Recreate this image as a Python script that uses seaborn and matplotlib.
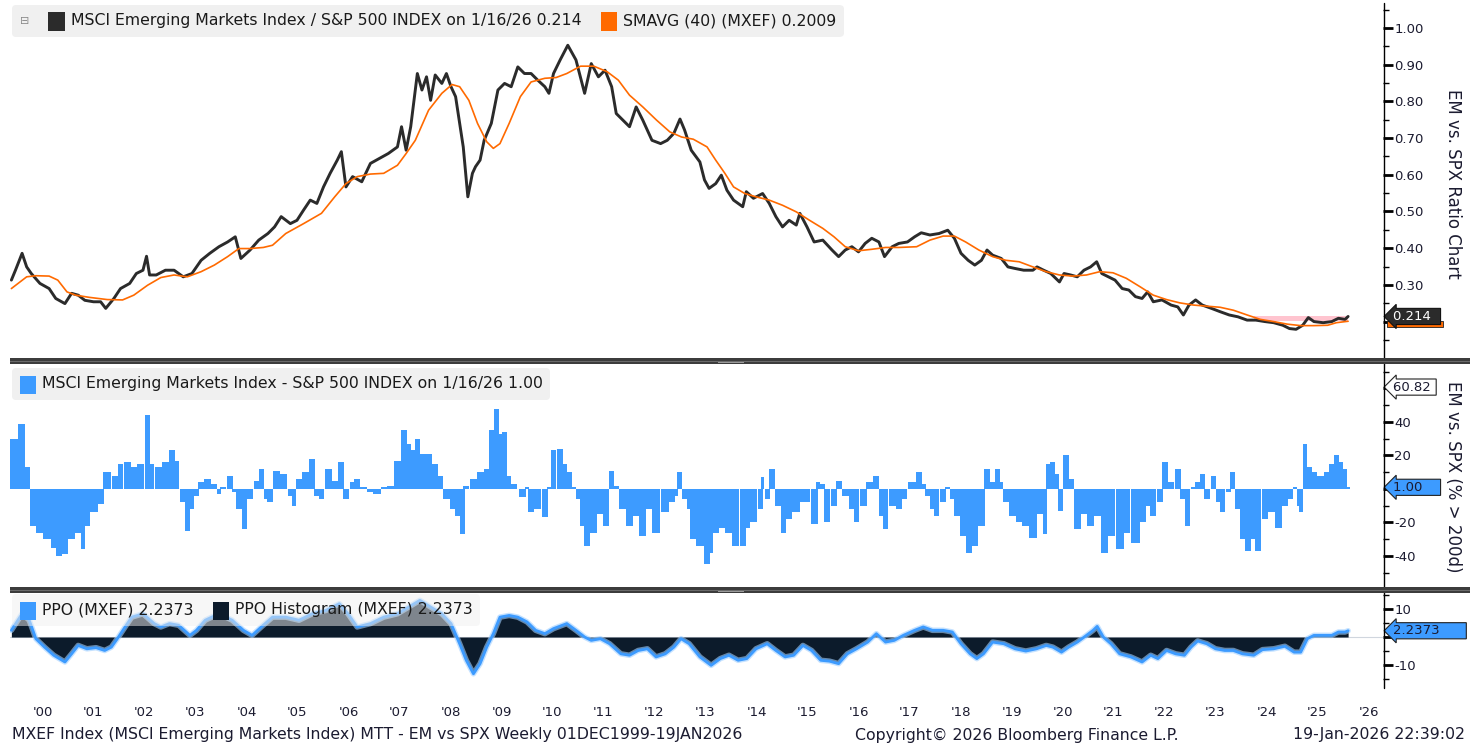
import numpy as np
import matplotlib
matplotlib.use("Agg")
import matplotlib.pyplot as plt
import matplotlib.transforms as mtransforms
from matplotlib.offsetbox import AnchoredOffsetbox, HPacker, TextArea, DrawingArea
from matplotlib.patches import Rectangle
from matplotlib.lines import Line2D
import seaborn as sns

# ---- values (x = fractional year) ----
ratio_t = [1999.89, 1999.97, 2000.10, 2000.19, 2000.28, 2000.45, 2000.63, 2000.76, 2000.94, 2001.07,
           2001.20, 2001.33, 2001.50, 2001.64, 2001.74, 2001.90, 2002.03, 2002.21, 2002.34, 2002.47,
           2002.54, 2002.60, 2002.73, 2002.91, 2003.08, 2003.26, 2003.43, 2003.61, 2003.78, 2003.96,
           2004.13, 2004.28, 2004.39, 2004.57, 2004.74, 2004.92, 2005.05, 2005.18, 2005.36, 2005.49,
           2005.62, 2005.75, 2005.88, 2006.01, 2006.14, 2006.28, 2006.36, 2006.45, 2006.58, 2006.76,
           2006.93, 2007.11, 2007.28, 2007.46, 2007.54, 2007.63, 2007.72, 2007.85, 2007.94, 2008.03,
           2008.11, 2008.20, 2008.33, 2008.42, 2008.51, 2008.60, 2008.68, 2008.75, 2008.84, 2008.93,
           2008.99, 2009.08, 2009.16, 2009.30, 2009.43, 2009.56, 2009.69, 2009.82, 2009.95, 2010.08,
           2010.21, 2010.35, 2010.43, 2010.52, 2010.65, 2010.80, 2010.96, 2011.13, 2011.26, 2011.40,
           2011.53, 2011.66, 2011.75, 2011.88, 2012.01, 2012.14, 2012.27, 2012.45, 2012.62, 2012.75,
           2012.88, 2013.00, 2013.09, 2013.22, 2013.39, 2013.48, 2013.57, 2013.70, 2013.81, 2013.92,
           2014.05, 2014.23, 2014.30, 2014.44, 2014.62, 2014.75, 2014.88, 2015.01, 2015.14, 2015.28,
           2015.35, 2015.49, 2015.63, 2015.80, 2015.98, 2016.11, 2016.24, 2016.37, 2016.50, 2016.63,
           2016.76, 2016.90, 2017.01, 2017.16, 2017.29, 2017.46, 2017.60, 2017.73, 2017.90, 2018.08,
           2018.25, 2018.38, 2018.51, 2018.65, 2018.78, 2018.91, 2019.02, 2019.13, 2019.30, 2019.43,
           2019.56, 2019.74, 2019.92, 2020.00, 2020.13, 2020.27, 2020.44, 2020.53, 2020.66, 2020.79,
           2020.92, 2021.05, 2021.17, 2021.27, 2021.40, 2021.53, 2021.67, 2021.80, 2021.93, 2022.06,
           2022.17, 2022.28, 2022.45, 2022.63, 2022.76, 2022.87, 2022.98, 2023.11, 2023.24, 2023.42,
           2023.59, 2023.77, 2023.94, 2024.12, 2024.29, 2024.47, 2024.64, 2024.82, 2024.95, 2025.08,
           2025.21, 2025.32, 2025.43, 2025.61, 2025.78, 2025.91, 2026.04, 2026.10]
ratio_v = [0.313, 0.340, 0.386, 0.349, 0.331, 0.304, 0.290, 0.263, 0.249, 0.277,
           0.272, 0.258, 0.254, 0.254, 0.236, 0.263, 0.290, 0.304, 0.331, 0.340,
           0.378, 0.327, 0.327, 0.340, 0.340, 0.322, 0.331, 0.367, 0.386, 0.404,
           0.417, 0.431, 0.372, 0.395, 0.422, 0.440, 0.458, 0.486, 0.467, 0.476,
           0.504, 0.531, 0.522, 0.567, 0.604, 0.640, 0.663, 0.567, 0.595, 0.581,
           0.631, 0.645, 0.658, 0.676, 0.731, 0.667, 0.731, 0.876, 0.831, 0.867,
           0.803, 0.872, 0.849, 0.876, 0.840, 0.813, 0.740, 0.676, 0.540, 0.604,
           0.622, 0.640, 0.694, 0.740, 0.831, 0.849, 0.840, 0.894, 0.876, 0.876,
           0.858, 0.840, 0.822, 0.876, 0.913, 0.953, 0.913, 0.822, 0.903, 0.867,
           0.885, 0.840, 0.767, 0.749, 0.731, 0.785, 0.749, 0.694, 0.685, 0.694,
           0.713, 0.752, 0.722, 0.667, 0.635, 0.586, 0.563, 0.576, 0.599, 0.558,
           0.531, 0.513, 0.554, 0.536, 0.549, 0.522, 0.486, 0.458, 0.476, 0.463,
           0.495, 0.458, 0.417, 0.422, 0.395, 0.377, 0.395, 0.404, 0.390, 0.413,
           0.427, 0.417, 0.377, 0.404, 0.413, 0.417, 0.431, 0.442, 0.436, 0.440,
           0.449, 0.427, 0.386, 0.367, 0.354, 0.367, 0.395, 0.381, 0.372, 0.349,
           0.345, 0.340, 0.340, 0.349, 0.340, 0.331, 0.308, 0.331, 0.327, 0.322,
           0.340, 0.349, 0.363, 0.331, 0.322, 0.313, 0.290, 0.286, 0.268, 0.263,
           0.281, 0.254, 0.259, 0.245, 0.240, 0.218, 0.245, 0.259, 0.245, 0.236,
           0.227, 0.218, 0.213, 0.204, 0.204, 0.200, 0.197, 0.190, 0.181, 0.179,
           0.190, 0.211, 0.200, 0.197, 0.200, 0.209, 0.206, 0.214]

sma_t = [1999.89, 2000.19, 2000.37, 2000.63, 2000.80, 2000.98, 2001.15, 2001.42, 2001.77, 2002.07,
         2002.29, 2002.56, 2002.82, 2003.08, 2003.34, 2003.61, 2003.87, 2004.13, 2004.35, 2004.57,
         2004.83, 2005.01, 2005.27, 2005.62, 2005.97, 2006.23, 2006.45, 2006.67, 2006.93, 2007.19,
         2007.46, 2007.63, 2007.81, 2008.07, 2008.33, 2008.53, 2008.68, 2008.86, 2009.03, 2009.21,
         2009.34, 2009.47, 2009.65, 2009.87, 2010.08, 2010.35, 2010.57, 2010.78, 2011.05, 2011.31,
         2011.57, 2011.79, 2012.01, 2012.27, 2012.54, 2012.80, 2013.03, 2013.26, 2013.53, 2013.70,
         2013.88, 2014.05, 2014.27, 2014.49, 2014.75, 2015.01, 2015.28, 2015.54, 2015.80, 2016.02,
         2016.24, 2016.50, 2016.76, 2017.03, 2017.29, 2017.64, 2017.90, 2018.16, 2018.38, 2018.60,
         2018.86, 2019.13, 2019.39, 2019.65, 2019.92, 2020.18, 2020.44, 2020.70, 2020.97, 2021.23,
         2021.49, 2021.75, 2022.02, 2022.28, 2022.54, 2022.80, 2023.07, 2023.33, 2023.59, 2023.85,
         2024.12, 2024.38, 2024.64, 2024.91, 2025.17, 2025.43, 2025.70, 2025.87, 2026.10]
sma_v = [0.290, 0.322, 0.325, 0.324, 0.313, 0.281, 0.272, 0.266, 0.260, 0.259,
         0.272, 0.299, 0.320, 0.327, 0.322, 0.336, 0.354, 0.377, 0.399, 0.399,
         0.402, 0.408, 0.440, 0.467, 0.495, 0.540, 0.576, 0.595, 0.602, 0.604,
         0.626, 0.658, 0.694, 0.776, 0.822, 0.846, 0.840, 0.803, 0.740, 0.690,
         0.672, 0.685, 0.740, 0.813, 0.853, 0.863, 0.865, 0.876, 0.896, 0.896,
         0.881, 0.858, 0.817, 0.785, 0.749, 0.717, 0.703, 0.697, 0.676, 0.640,
         0.604, 0.567, 0.549, 0.540, 0.531, 0.517, 0.499, 0.476, 0.454, 0.431,
         0.404, 0.393, 0.397, 0.402, 0.402, 0.404, 0.422, 0.433, 0.433, 0.417,
         0.395, 0.377, 0.367, 0.363, 0.349, 0.336, 0.327, 0.324, 0.327, 0.336,
         0.333, 0.318, 0.295, 0.272, 0.260, 0.251, 0.245, 0.242, 0.239, 0.231,
         0.218, 0.206, 0.200, 0.193, 0.189, 0.189, 0.190, 0.197, 0.2009]

pct_t = [1999.93, 2000.09, 2000.19, 2000.32, 2000.45, 2000.59, 2000.72, 2000.82, 2000.94, 2001.07,
         2001.20, 2001.29, 2001.37, 2001.51, 2001.64, 2001.77, 2001.94, 2002.03, 2002.16, 2002.29,
         2002.42, 2002.56, 2002.64, 2002.77, 2002.91, 2003.04, 2003.12, 2003.26, 2003.34, 2003.43,
         2003.52, 2003.61, 2003.74, 2003.87, 2003.96, 2004.04, 2004.18, 2004.26, 2004.35, 2004.46,
         2004.57, 2004.70, 2004.79, 2004.88, 2004.96, 2005.09, 2005.23, 2005.36, 2005.43, 2005.53,
         2005.66, 2005.78, 2005.88, 2005.97, 2006.10, 2006.23, 2006.36, 2006.45, 2006.58, 2006.67,
         2006.80, 2006.93, 2007.06, 2007.20, 2007.33, 2007.46, 2007.59, 2007.68, 2007.76, 2007.85,
         2007.94, 2008.07, 2008.20, 2008.29, 2008.42, 2008.55, 2008.64, 2008.73, 2008.81, 2008.95,
         2009.08, 2009.21, 2009.30, 2009.40, 2009.47, 2009.56, 2009.65, 2009.73, 2009.91, 2010.00,
         2010.08, 2010.21, 2010.35, 2010.43, 2010.52, 2010.65, 2010.74, 2010.83, 2010.92, 2011.00,
         2011.09, 2011.18, 2011.31, 2011.44, 2011.55, 2011.66, 2011.75, 2011.88, 2012.01, 2012.14,
         2012.27, 2012.40, 2012.53, 2012.71, 2012.84, 2012.93, 2012.99, 2013.09, 2013.18, 2013.26,
         2013.39, 2013.53, 2013.61, 2013.70, 2013.83, 2013.96, 2014.09, 2014.23, 2014.31, 2014.44,
         2014.58, 2014.62, 2014.71, 2014.81, 2014.93, 2015.03, 2015.14, 2015.28, 2015.45, 2015.63,
         2015.71, 2015.80, 2015.89, 2016.02, 2016.11, 2016.24, 2016.37, 2016.46, 2016.59, 2016.72,
         2016.85, 2016.94, 2017.03, 2017.16, 2017.29, 2017.38, 2017.55, 2017.68, 2017.77, 2017.86,
         2017.95, 2018.03, 2018.16, 2018.25, 2018.34, 2018.43, 2018.56, 2018.67, 2018.78, 2018.91,
         2019.02, 2019.13, 2019.23, 2019.30, 2019.39, 2019.52, 2019.65, 2019.78, 2019.92, 2020.05,
         2020.16, 2020.22, 2020.31, 2020.40, 2020.46, 2020.57, 2020.66, 2020.79, 2020.92, 2021.05,
         2021.18, 2021.32, 2021.45, 2021.62, 2021.75, 2021.93, 2022.06, 2022.19, 2022.28, 2022.41,
         2022.51, 2022.63, 2022.76, 2022.85, 2022.95, 2023.07, 2023.15, 2023.24, 2023.33, 2023.46,
         2023.55, 2023.64, 2023.75, 2023.84, 2023.94, 2024.03, 2024.13, 2024.25, 2024.34, 2024.47,
         2024.60, 2024.73, 2024.86, 2024.97, 2025.06, 2025.12, 2025.18, 2025.25, 2025.34, 2025.43,
         2025.56, 2025.69, 2025.78, 2025.87, 2025.96, 2026.04, 2026.10]
pct_v = [30, 39, 13, -22, -26, -30, -35, -40, -39, -30,
         -26, -36, -22, -14, -9, 10, 8, 15, 16, 13,
         15, 44, 15, 13, 16, 23, 17, -8, -25, -12,
         -4, 4, 6, 3, -3, 1, 8, -2, -12, -24,
         -6, 5, 12, -6, -8, 11, 9, -4, -10, 6,
         10, 18, -4, -6, 12, 5, 16, -6, 4, 6,
         1, -2, -3, 1, 2, 17, 35, 27, 23, 30,
         21, 21, 15, 8, -6, -12, -16, -27, 2, 6,
         10, 12, 35, 48, 33, 34, 8, 3, -5, 1,
         -14, -12, -17, 1, 23, 24, 15, 10, 1, -6,
         -22, -34, -26, -15, -22, 11, 2, -12, -22, -16,
         -28, -12, -26, -14, -8, -4, 10, -6, -12, -30,
         -34, -45, -38, -26, -23, -26, -34, -34, -23, -20,
         -12, 7, -6, 12, -10, -26, -18, -14, -8, -21,
         4, 3, -20, -10, 5, -4, -12, -20, -10, 4,
         8, -16, -24, -10, -12, -6, 4, 10, 3, -4,
         -12, -16, -8, 1, -6, -16, -28, -38, -34, -22,
         12, 4, 12, 4, -8, -16, -20, -22, -29, -15,
         -27, 15, 16, 9, -13, 20, 6, -24, -15, -22,
         -16, -38, -28, -36, -26, -32, -20, -10, -16, -8,
         16, 4, 12, -6, -22, 1, 4, 9, -6, 8,
         -8, -14, -2, 10, -12, -30, -37, -30, -37, -18,
         -14, -23, -10, -6, 1, -10, -14, 27, 13, 10,
         8, 10, 15, 20, 16, 12, 1.00]

ppo_t = [1999.89, 2000.10, 2000.24, 2000.37, 2000.54, 2000.72, 2000.94, 2001.07, 2001.20, 2001.37,
         2001.55, 2001.72, 2001.85, 2001.99, 2002.12, 2002.25, 2002.47, 2002.69, 2002.82, 2002.99,
         2003.17, 2003.39, 2003.52, 2003.69, 2003.96, 2004.22, 2004.44, 2004.61, 2004.79, 2005.01,
         2005.27, 2005.53, 2005.79, 2006.06, 2006.32, 2006.49, 2006.67, 2006.93, 2007.19, 2007.46,
         2007.68, 2007.90, 2008.11, 2008.33, 2008.51, 2008.68, 2008.81, 2008.95, 2009.08, 2009.21,
         2009.34, 2009.47, 2009.65, 2009.82, 2010.00, 2010.17, 2010.35, 2010.52, 2010.78, 2010.96,
         2011.13, 2011.26, 2011.44, 2011.62, 2011.84, 2012.01, 2012.18, 2012.36, 2012.53, 2012.71,
         2012.88, 2013.02, 2013.18, 2013.39, 2013.61, 2013.79, 2013.96, 2014.14, 2014.31, 2014.49,
         2014.71, 2014.88, 2015.06, 2015.23, 2015.41, 2015.58, 2015.76, 2015.93, 2016.11, 2016.28,
         2016.46, 2016.68, 2016.85, 2017.03, 2017.20, 2017.38, 2017.60, 2017.77, 2017.95, 2018.16,
         2018.34, 2018.51, 2018.69, 2018.82, 2018.95, 2019.13, 2019.35, 2019.57, 2019.78, 2019.99,
         2020.18, 2020.31, 2020.48, 2020.62, 2020.79, 2020.97, 2021.10, 2021.18, 2021.30, 2021.45,
         2021.62, 2021.84, 2022.06, 2022.23, 2022.37, 2022.54, 2022.72, 2022.89, 2023.02, 2023.15,
         2023.33, 2023.50, 2023.68, 2023.85, 2024.03, 2024.25, 2024.42, 2024.64, 2024.86, 2025.04,
         2025.17, 2025.30, 2025.43, 2025.60, 2025.78, 2025.91, 2026.04, 2026.10]
ppo_v = [2.4, 8.3, 6.0, -0.6, -3.6, -6.5, -8.9, -6.0, -3.0, -4.2,
         -3.8, -4.8, -3.6, 0.0, 3.6, 7.1, 8.3, 4.8, 3.6, 4.8,
         4.2, 0.6, 2.4, 6.0, 8.3, 6.0, 2.4, 0.6, 3.6, 7.1,
         7.1, 6.0, 8.3, 9.5, 11.9, 8.3, 3.6, 4.8, 7.1, 8.3,
         10.7, 13.1, 10.7, 8.3, 4.8, -2.4, -8.3, -13.1, -9.5, -3.6,
         1.2, 7.1, 7.7, 7.1, 5.4, 2.4, 1.2, 3.0, 4.8, 2.4,
         0.0, -1.2, -0.6, -2.4, -6.0, -6.5, -4.8, -4.2, -7.1, -6.0,
         -3.6, -0.6, -2.4, -7.1, -10.1, -7.7, -6.5, -8.3, -7.7, -4.2,
         -2.4, -4.8, -7.1, -6.5, -3.0, -4.8, -8.3, -8.6, -9.5, -6.0,
         -4.2, -1.8, 1.2, -1.8, -1.2, 0.6, 2.4, 3.6, 2.4, 2.4,
         1.8, -2.4, -6.0, -7.7, -6.0, -1.8, -2.4, -4.2, -5.0, -4.2,
         -3.0, -3.6, -5.4, -3.6, -1.8, 0.6, 2.4, 3.8, 0.0, -2.4,
         -6.0, -7.1, -8.9, -6.5, -7.7, -4.8, -6.0, -6.5, -3.6, -1.4,
         -2.4, -4.2, -4.8, -4.8, -6.0, -6.5, -4.5, -4.2, -3.3, -5.4,
         -5.4, -0.6, 0.6, 0.6, 0.6, 1.8, 1.8, 2.2373]

LAST_RATIO = 0.214
LAST_SMA = 0.2009
LAST_PCT = 1.00
MAX_PCT = 60.82
LAST_PPO = 2.2373
PINK_START = 2024.25

years = list(range(2000, 2027))
year_labels = ["'%02d" % (y % 100) for y in years]

ratio_ticks = [0.20, 0.30, 0.40, 0.50, 0.60, 0.70, 0.80, 0.90, 1.00]
pct_ticks = [-40, -20, 0, 20, 40, 60]
ppo_ticks = [-10, 0, 10]
# tick labels hidden behind the value tags in the reference
hidden = {0.20, 0, 60}

# ---- style ----
sns.set_theme(style="white")
plt.rcParams["font.family"] = ["DejaVu Sans"]

W, H = 1470, 743
fig = plt.figure(figsize=(W / 100, H / 100), dpi=100)
fig.patch.set_facecolor("white")


def px_axes(x0, y0, x1, y1):
    return fig.add_axes([x0 / W, 1 - y1 / H, (x1 - x0) / W, (y1 - y0) / H])


ax1 = px_axes(10, 5, 1383, 357)
ax2 = px_axes(10, 366, 1383, 586)
ax3 = px_axes(10, 593, 1383, 685)

XMIN, XMAX = 1999.863, 2026.784
TXT = "#1b1b30"
BLUE = "#3d9bff"
NAVY = "#0c1b2b"
FS = 11.3

for ax in (ax1, ax2, ax3):
    ax.set_xlim(XMIN, XMAX)
    for s in ax.spines.values():
        s.set_visible(False)
    ax.yaxis.tick_right()
    ax.tick_params(axis="y", which="major", direction="out", length=7, width=2,
                   color="black", labelsize=9.5, labelcolor=TXT, pad=1, right=True)
    ax.tick_params(axis="y", which="minor", direction="out", length=4, width=1,
                   color="black", right=True)
    ax.set_xticks([])
    ax.grid(False)
    ax.set_facecolor("white")


def tick_text(v, fmt):
    return "" if round(v, 2) in hidden else fmt % v


# top panel: ratio and 40-week average
ax1.fill_between([PINK_START, ratio_t[-1]], LAST_SMA, LAST_RATIO, color="#ffc4cf", lw=0, zorder=1)
sns.lineplot(x=ratio_t, y=ratio_v, ax=ax1, color="#2b2b2b", linewidth=2.1, zorder=3)
sns.lineplot(x=sma_t, y=sma_v, ax=ax1, color="#ff6a00", linewidth=1.2, zorder=4)
ax1.set_ylim(0.1035, 1.0627)
ax1.set_yticks(ratio_ticks)
ax1.set_yticklabels([tick_text(v, "%.2f") for v in ratio_ticks])
ax1.set_yticks(np.arange(0.15, 1.06, 0.1), minor=True)

# middle panel: % above 200d
widths = np.gradient(np.array(pct_t)) * 1.05
ax2.bar(pct_t, pct_v, width=widths, color=BLUE, linewidth=0, zorder=3)
ax2.set_ylim(-57.9, 73.4)
ax2.set_yticks(pct_ticks)
ax2.set_yticklabels([tick_text(v, "%d") for v in pct_ticks])
ax2.set_yticks(np.arange(-50, 71, 10), minor=True)

# bottom panel: PPO
ax3.fill_between(ppo_t, 0, ppo_v, color=NAVY, lw=0, zorder=2)
ax3.axhline(0, color="#d0d6de", lw=0.8, zorder=1)
sns.lineplot(x=ppo_t, y=ppo_v, ax=ax3, color="#9fcfff", linewidth=4.0, alpha=0.6, zorder=3)
sns.lineplot(x=ppo_t, y=ppo_v, ax=ax3, color=BLUE, linewidth=2.0, zorder=4)
ax3.set_ylim(-17.1, 15.7)
ax3.set_yticks(ppo_ticks)
ax3.set_yticklabels([tick_text(v, "%d") for v in ppo_ticks])
ax3.set_yticks(np.arange(-15, 16, 5), minor=True)
ax3.set_xticks([y + 0.5 for y in years])
ax3.set_xticklabels(year_labels)
ax3.tick_params(axis="x", length=0, labelsize=9.5, labelcolor=TXT, pad=15)
for ax in (ax1, ax2, ax3):
    ax.set_xlabel("")
    ax.set_ylabel("")

# right axis line and panel dividers
fig.add_artist(Line2D([1383.5 / W] * 2, [1 - 688 / H, 1 - 3 / H], color="black", lw=1))
for yt in (358, 587):
    fig.add_artist(Rectangle((10 / W, 1 - (yt + 6) / H), 1 - 10 / W, 6 / H,
                             transform=fig.transFigure, fc="#3c3c3c", ec="none", zorder=5))
    fig.add_artist(Rectangle((10 / W, 1 - (yt + 3.5) / H), 1 - 10 / W, 1 / H,
                             transform=fig.transFigure, fc="#6a6a6a", ec="none", zorder=6))
    fig.add_artist(Rectangle((718 / W, 1 - (yt + 4.5) / H), 26 / W, 1 / H,
                             transform=fig.transFigure, fc="#9a9a9a", ec="none", zorder=7))


# value tags on the right axis
def tag(ax, y, text, fc, tc, ec, z=8):
    trans = mtransforms.blended_transform_factory(ax.transAxes, ax.transData)
    ax.text(1.007, y, text, transform=trans, ha="left", va="center", fontsize=9.5,
            color=tc, zorder=z, clip_on=False,
            bbox=dict(boxstyle="larrow,pad=0.12", fc=fc, ec=ec, lw=0.8))


# orange SMA tag peeking out below the ratio tag
trans1 = mtransforms.blended_transform_factory(ax1.transAxes, ax1.transData)
ax1.add_patch(Rectangle((1.003, LAST_SMA - 0.016), 0.041, 0.016, transform=trans1,
                        fc="#ff6a00", ec="#222222", lw=0.6, clip_on=False, zorder=7))
tag(ax1, LAST_RATIO, "0.214  ", "#2b2b2b", "white", "#111111")
tag(ax2, MAX_PCT, "60.82 ", "white", TXT, "#222222")
tag(ax2, LAST_PCT, "1.00    ", BLUE, TXT, "#222222")
tag(ax3, LAST_PPO, "2.2373      ", BLUE, TXT, "#222222")

# right axis titles
fig.text(1453 / W, 1 - 184 / H, "EM vs. SPX Ratio Chart", rotation=-90, ha="center",
         va="center", fontsize=12, color=TXT)
fig.text(1453 / W, 1 - 477 / H, "EM vs. SPX (% > 200d)", rotation=-90, ha="center",
         va="center", fontsize=12, color=TXT)


# legend boxes
def square(color):
    da = DrawingArea(12, 12, 0, 0)
    da.add_artist(Rectangle((0, -1), 12, 13, fc=color, ec="none"))
    return da


def legend_box(items, x_px, y_px, alpha=1.0, lead=None):
    groups = []
    if lead is not None:
        groups.append(TextArea(lead, textprops=dict(color="#8a8a8a", fontsize=8)))
    for color, label in items:
        groups.append(HPacker(children=[square(color),
                                        TextArea(label, textprops=dict(color="#1a1a1a", fontsize=FS))],
                              sep=4, align="center"))
    box = AnchoredOffsetbox(loc="upper left", child=HPacker(children=groups, sep=14, align="center"),
                            pad=0.45, borderpad=0, frameon=True, prop=dict(size=12),
                            bbox_to_anchor=(x_px / W, 1 - y_px / H), bbox_transform=fig.transFigure)
    box.patch.set_boxstyle("round,pad=0,rounding_size=0.25")
    box.patch.set_facecolor("#f0f0f0")
    box.patch.set_edgecolor("none")
    box.patch.set_alpha(alpha)
    box.set_zorder(10)
    fig.add_artist(box)


legend_box([("#2b2b2b", "MSCI Emerging Markets Index / S&P 500 INDEX on 1/16/26 0.214"),
            ("#ff6a00", "SMAVG (40) (MXEF) 0.2009")], 12, 5, lead="\u229f")
legend_box([(BLUE, "MSCI Emerging Markets Index - S&P 500 INDEX on 1/16/26 1.00")], 12, 368)
legend_box([(BLUE, "PPO (MXEF) 2.2373"), (NAVY, "PPO Histogram (MXEF) 2.2373")], 12, 594, alpha=0.5)

# footer
fig.text(12 / W, 1 - 735 / H, "MXEF Index (MSCI Emerging Markets Index) MTT - EM vs SPX Weekly 01DEC1999-19JAN2026",
         ha="left", va="center", fontsize=FS, color=TXT)
fig.text(855 / W, 1 - 735 / H, "Copyright\u00a9 2026 Bloomberg Finance L.P.", ha="left", va="center",
         fontsize=FS, color=TXT)
fig.text(1465 / W, 1 - 735 / H, "19-Jan-2026 22:39:02", ha="right", va="center", fontsize=FS, color=TXT)

fig.savefig("out.png", dpi=100, facecolor="white")
